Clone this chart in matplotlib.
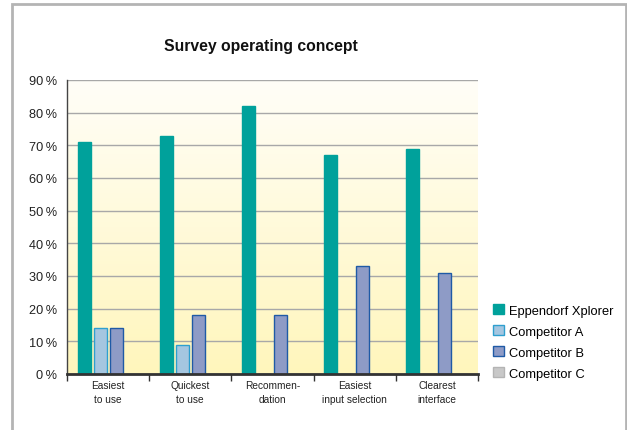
import matplotlib
matplotlib.use("Agg")
import matplotlib.pyplot as plt
import numpy as np
from matplotlib.patches import Rectangle
from matplotlib.colors import LinearSegmentedColormap

plt.rcParams['font.family'] = ['Liberation Sans', 'DejaVu Sans']

categories = ["Easiest\nto use", "Quickest\nto use", "Recommen-\ndation",
              "Easiest\ninput selection", "Clearest\ninterface"]
series_names = ["Eppendorf Xplorer", "Competitor A", "Competitor B", "Competitor C"]
eppendorf = [71, 73, 82, 67, 69]
competitor_a = [14, 9, 0, 0, 0]
competitor_b = [14, 18, 18, 33, 31]
competitor_c = [0, 0, 0, 0, 0]
yticks = [0, 10, 20, 30, 40, 50, 60, 70, 80, 90]
ytick_labels = [f"{v}\u2009%" for v in yticks]

faces = ["#00A19B", "#A5C6E0", "#8E9BC6", "#C8C8C8"]
edges = ["#00A19B", "#2E9FCF", "#1F5AA6", "#B4B4B4"]

fig = plt.figure(figsize=(6.27, 4.31), dpi=100)
ax = fig.add_axes([67/627, 1-375/431, (478-67)/627, (375-81)/431])

# gradient background
grad = np.linspace(0, 1, 256).reshape(-1, 1)
cmap = LinearSegmentedColormap.from_list("bg", ["#FFF6BC", "#FFFEF8"])
ax.imshow(grad, aspect='auto', cmap=cmap, origin='lower',
          extent=[0, 1, 0, 1], transform=ax.transAxes, zorder=0)

x = np.arange(len(categories))
slot = 0.195
width = 0.158
data = [eppendorf, competitor_a, competitor_b, competitor_c]
for i, (vals, name) in enumerate(zip(data, series_names)):
    ax.bar(x + (i - 1.5) * slot, vals, width=width, color=faces[i],
           edgecolor=edges[i], linewidth=1.0, label=name, zorder=3)

ax.set_xlim(-0.5, 4.5)
ax.set_ylim(0, 90)
ax.set_yticks(yticks)
ax.set_yticklabels(ytick_labels, fontsize=9.2, color="#222222")
ax.yaxis.grid(True, color="#A8A8A8", linewidth=1.0, zorder=1)
ax.set_axisbelow(True)
ax.tick_params(axis='y', length=0, pad=7)

ax.set_xticks(x)
ax.set_xticklabels(categories, fontsize=7.3, color="#222222", linespacing=1.5)
ax.set_xticks(np.arange(-0.5, 5.0, 1.0), minor=True)
ax.tick_params(axis='x', which='major', length=0, pad=4)
ax.tick_params(axis='x', which='minor', length=5, width=1.0, color="#333333", direction='out')

for s in ['top', 'right']:
    ax.spines[s].set_visible(False)
ax.spines['left'].set_color("#444444")
ax.spines['left'].set_linewidth(1.0)
ax.spines['bottom'].set_color("#333333")
ax.spines['bottom'].set_linewidth(2.0)
ax.spines['bottom'].set_zorder(4)

fig.text(261/627, 1-46/431, "Survey operating concept", ha='center', va='center',
         fontsize=11.3, fontweight='bold', color="#111111")

handles, labels = ax.get_legend_handles_labels()
fig.legend(handles, labels, loc='upper left', bbox_to_anchor=(493/627, 1-305/431),
           frameon=False, fontsize=9.3, handlelength=0.85, handleheight=0.85,
           handletextpad=0.4, labelspacing=0.65, borderaxespad=0, borderpad=0)

# outer frame
fig.patches.append(Rectangle((12/627, -0.1), (626-12)/627, 1.1 - 5/431,
                             transform=fig.transFigure, fill=False,
                             edgecolor="#B4B4B4", linewidth=2.0))

fig.savefig("out.png", dpi=100)
